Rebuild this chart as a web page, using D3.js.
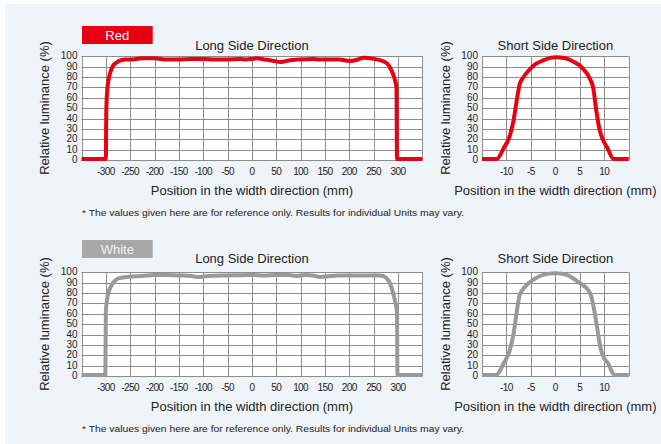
<!DOCTYPE html>
<html><head><meta charset="utf-8">
<script src="https://cdn.jsdelivr.net/npm/d3@7/dist/d3.min.js"></script>
<style>
html,body{margin:0;padding:0;background:#fff;}
svg{display:block;font-family:"Liberation Sans",Arial,sans-serif;}
</style></head>
<body>
<svg id="c" width="661" height="444"></svg>
<script>
// ---------- data ----------
const yTicks = [0,10,20,30,40,50,60,70,80,90,100];
const longTicks = [-300,-250,-200,-150,-100,-50,0,50,100,150,200,250,300];
const shortTicks = [-10,-5,0,5,10];
const longDomain = [-350,350];
const shortDomain = [-15,15];

const redLongX = [-350,-300,-299,-297,-294,-290,-285,-278,-270,-260,-250,-225,-200,-175,-150,-125,-100,-75,-50,-25,-10,0,10,25,40,60,75,100,125,140,160,180,200,215,230,250,265,278,285,292,297,298,350];
const redLongY = [1,1,50,68,78,86,91,94,96,97,97,98,98,97,97,97.5,97.5,97,97,97.5,97,97.5,98,97,96,94.5,96,97,97.5,97,97,97,95.5,96.5,98.5,97.5,96,93,88,80,70,1,1];

const redShortX = [-15,-12,-10.5,-9.4,-8.6,-7.8,-7.3,-6.5,-5.5,-4.5,-2.5,-1,0,1,2.5,4,5,6,7,7.8,8.3,9,9.6,10.6,11.9,15];
const redShortY = [1,1,12,22,37,60,73,80,86,91,96,98.5,99,98.8,97.5,94,91,86,79,68,50,30,21,12,1,1];

const whiteLongX = [-350,-301,-300,-298,-295,-290,-283,-275,-265,-250,-225,-200,-175,-150,-125,-110,-90,-50,0,25,50,75,90,110,125,140,155,175,200,225,250,265,275,283,290,295,298,299,350];
const whiteLongY = [1,1,62,72,80,86,91,94,95,96,96.5,97.5,97.5,97,96.5,95.5,96.5,97,97.5,97,97.5,97.5,96.5,97.5,97,95.5,96,97,97,97,97,97,95,90,80,70,62,1,1];

const whiteShortX = [-15,-12.1,-10.6,-9.3,-8.5,-7.8,-7.3,-6.2,-4.5,-2.5,0,2.3,4.3,5.5,6.5,7.4,8,8.5,9.2,9.6,10.8,12.1,15];
const whiteShortY = [1,1,12,25,42,65,78,86,93,97.5,99,97.5,92,88,84,76,62,48,28,21,12,1,1];

const labels = ["Red","White"];
const colors = ["#e60012","#999999"];
const boxColors = ["#e60012","#a8a8a8"];
const note = "* The values given here are for reference only. Results for individual Units may vary.";
const longTitle = "Long Side Direction";
const shortTitle = "Short Side Direction";
const yTitle = "Relative luminance (%)";
const xTitle = "Position in the width direction (mm)";

// ---------- drawing ----------
const svg = d3.select("#c");
svg.append("rect").attr("x",5).attr("y",4).attr("width",656).attr("height",440).attr("fill","#eff4f9");

const series = [
  {long: d3.zip(redLongX, redLongY), short: d3.zip(redShortX, redShortY)},
  {long: d3.zip(whiteLongX, whiteLongY), short: d3.zip(whiteShortX, whiteShortY)}
];

const gridColor = "#8c8c8c";

function panel(off, idx, domain, range, ticks, data, title, ylabX) {
  const x = d3.scaleLinear().domain(domain).range(range);
  const y = d3.scaleLinear().domain([0,100]).range([160+off, 56.3+off]);
  const g = svg.append("g");
  g.append("rect").attr("x",range[0]).attr("y",y(100)).attr("width",range[1]-range[0]).attr("height",y(0)-y(100)).attr("fill","#fff");
  // grid
  g.selectAll(".h").data(yTicks).enter().append("line")
    .attr("x1",range[0]).attr("x2",range[1]).attr("y1",d=>Math.round(y(d))+0.5).attr("y2",d=>Math.round(y(d))+0.5)
    .attr("stroke",gridColor).attr("stroke-width",1);
  g.selectAll(".v").data(ticks.concat(domain)).enter().append("line")
    .attr("y1",y(100)).attr("y2",y(0)).attr("x1",d=>Math.round(x(d))+0.5).attr("x2",d=>Math.round(x(d))+0.5)
    .attr("stroke",gridColor).attr("stroke-width",1);
  // y tick labels
  g.selectAll(".yl").data(yTicks).enter().append("text")
    .attr("x",range[0]-4).attr("y",d=>y(d)+3).attr("text-anchor","end")
    .attr("font-size","10px").attr("fill","#222").text(d=>d);
  // x tick labels
  g.selectAll(".xl").data(ticks).enter().append("text")
    .attr("x",d=>x(d)).attr("y",175+off).attr("text-anchor","middle")
    .attr("font-size","10px").attr("letter-spacing","-0.6px").attr("fill","#222").text(d=>d);
  // titles
  const cx = (range[0]+range[1])/2;
  g.append("text").attr("x",cx).attr("y",50+off-(off?3:0)).attr("text-anchor","middle").attr("font-size","13px").attr("fill","#222").text(title);
  g.append("text").attr("x",cx).attr("y",195+off).attr("text-anchor","middle").attr("font-size","13px").attr("fill","#222").text(xTitle);
  g.append("text").attr("transform",`translate(${ylabX},${108+off}) rotate(-90)`).attr("text-anchor","middle").attr("font-size","13px").attr("fill","#222").text(yTitle);
  // line
  const line = d3.line().x(d=>x(d[0])).y(d=>y(d[1])).curve(d3.curveMonotoneX);
  g.append("path").datum(data).attr("d",line).attr("fill","none").attr("stroke",colors[idx])
    .attr("stroke-width",4).attr("stroke-linejoin","round");
}

[0,1].forEach(i => {
  const off = i*216;
  panel(off, i, longDomain, [81.5,422.3], longTicks, series[i].long, longTitle, 48.5);
  panel(off, i, shortDomain, [482,628.7], shortTicks, series[i].short, shortTitle, 450);
  const boff = i*214;
  svg.append("rect").attr("x",82).attr("y",26+boff).attr("width",70.7).attr("height",18).attr("fill",boxColors[i]);
  svg.append("text").attr("x",117.3).attr("y",40.3+boff).attr("text-anchor","middle").attr("font-size","13px")
    .attr("fill", i===0 ? "#fff" : "#f2f2f2").text(labels[i]);
  svg.append("text").attr("x",82).attr("y",215.5+off).attr("font-size","9px").attr("fill","#222")
    .attr("textLength",382).attr("lengthAdjust","spacingAndGlyphs").text(note);
});
</script>
</body></html>
